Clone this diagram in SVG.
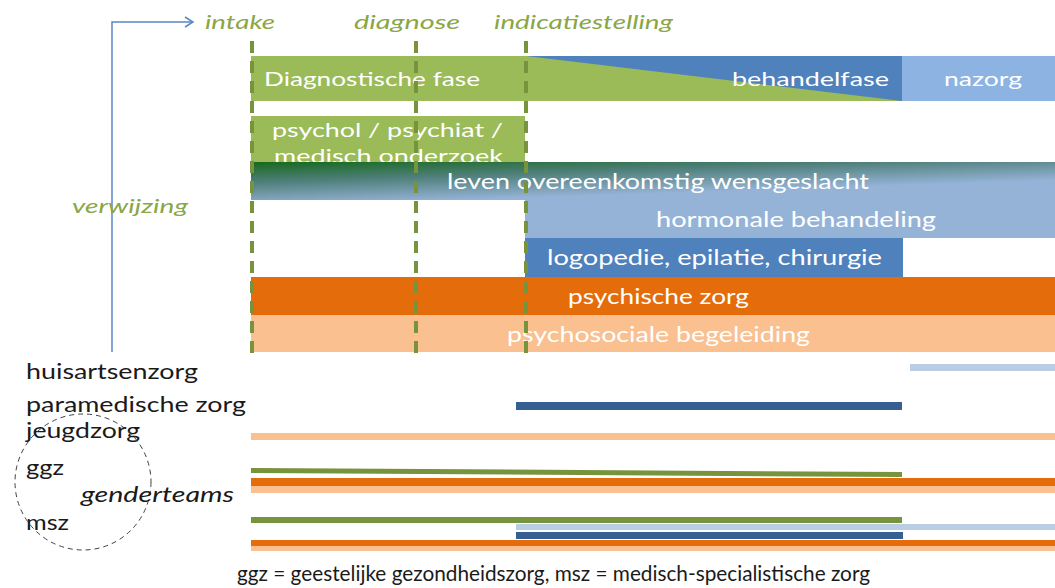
<svg xmlns="http://www.w3.org/2000/svg" width="1055" height="588" viewBox="0 0 1055 588">
<defs>
<style>
.bt{font-family:Lato,"Liberation Sans",sans-serif;fill:#FFFFFF;}
.tl{font-family:Lato,"Liberation Sans",sans-serif;font-style:italic;fill:#8AA645;font-size:20px;}
.lb{font-family:Lato,"Liberation Sans",sans-serif;fill:#1A1A1A;font-size:21px;}
.dash{stroke:#77933C;stroke-width:4;stroke-dasharray:12 8;fill:none;}
.conn{stroke:#5B86C5;stroke-width:1.5;fill:none;}
</style>
<linearGradient id="gLeven" gradientUnits="userSpaceOnUse" x1="251" y1="162" x2="252.5" y2="207">
<stop offset="0" stop-color="#17691D"/>
<stop offset="0.45" stop-color="#4E7F79"/>
<stop offset="1" stop-color="#95B3D7"/>
</linearGradient>
</defs>
<rect width="1055" height="588" fill="#FFFFFF"/>

<g id="connectors">
<polyline class="conn" points="112,352 112,22 193,22"/>
<polyline class="conn" points="185,17 193,22 185,27"/>
</g>

<g id="timeline-labels">
<text class="tl" x="205" y="29" textLength="70" lengthAdjust="spacingAndGlyphs">intake</text>
<text class="tl" x="354" y="29" textLength="106" lengthAdjust="spacingAndGlyphs">diagnose</text>
<text class="tl" x="494" y="29" textLength="179" lengthAdjust="spacingAndGlyphs">indicatiestelling</text>
<text class="tl" x="72" y="213" textLength="116" lengthAdjust="spacingAndGlyphs">verwijzing</text>
</g>

<g id="phase-row">
<rect x="251" y="56" width="651" height="45" fill="#9BBB59"/>
<polygon points="526,56 902,56 902,101" fill="#4F81BD"/>
<rect x="902" y="56" width="153" height="45" fill="#8DB3E2"/>
<text class="bt" x="264" y="86" font-size="20" textLength="216" lengthAdjust="spacingAndGlyphs">Diagnostische fase</text>
<text class="bt" x="732" y="86" font-size="20" textLength="157" lengthAdjust="spacingAndGlyphs">behandelfase</text>
<text class="bt" x="944" y="86" font-size="20" textLength="78" lengthAdjust="spacingAndGlyphs">nazorg</text>
</g>

<g id="onderzoek">
<rect x="251" y="116" width="274" height="47" fill="#9BBB59"/>
<text class="bt" x="272" y="137" font-size="20" textLength="231" lengthAdjust="spacingAndGlyphs">psychol / psychiat  /</text>
<text class="bt" x="274" y="163" font-size="20" textLength="229" lengthAdjust="spacingAndGlyphs">medisch onderzoek</text>
</g>

<g id="leven">
<rect x="251" y="162" width="804" height="38" fill="url(#gLeven)"/>
<text class="bt" x="447" y="189" font-size="22" textLength="422" lengthAdjust="spacingAndGlyphs">leven overeenkomstig wensgeslacht</text>
</g>

<g id="hormonale">
<rect x="525" y="200" width="530" height="38" fill="#95B3D7"/>
<text class="bt" x="656" y="227" font-size="22" textLength="280" lengthAdjust="spacingAndGlyphs">hormonale behandeling</text>
</g>

<g id="logopedie">
<rect x="525" y="238" width="378" height="39" fill="#4F81BD"/>
<text class="bt" x="547" y="265" font-size="22" textLength="335" lengthAdjust="spacingAndGlyphs">logopedie, epilatie, chirurgie</text>
</g>

<g id="psychische">
<rect x="251" y="277" width="804" height="38" fill="#E46C0A"/>
<text class="bt" x="568" y="304" font-size="22" textLength="181" lengthAdjust="spacingAndGlyphs">psychische zorg</text>
</g>

<g id="psychosociale">
<rect x="251" y="315" width="804" height="37" fill="#FAC090"/>
<text class="bt" x="507" y="342" font-size="22" textLength="303" lengthAdjust="spacingAndGlyphs">psychosociale begeleiding</text>
</g>

<g id="milestones">
<line class="dash" x1="252" y1="41" x2="252" y2="359"/>
<line class="dash" x1="416" y1="41" x2="416" y2="359"/>
<line class="dash" x1="526" y1="41" x2="526" y2="359"/>
</g>

<g id="huisartsenzorg">
<text class="lb" x="26" y="379" textLength="172" lengthAdjust="spacingAndGlyphs">huisartsenzorg</text>
<rect x="910" y="364" width="145" height="7" fill="#B9CDE5"/>
</g>

<g id="paramedische">
<text class="lb" x="26" y="412" textLength="220" lengthAdjust="spacingAndGlyphs">paramedische zorg</text>
<rect x="516" y="402" width="386" height="8" fill="#376092"/>
</g>

<g id="jeugdzorg">
<text class="lb" x="26" y="438" textLength="114" lengthAdjust="spacingAndGlyphs">jeugdzorg</text>
<rect x="251" y="433" width="804" height="7" fill="#FAC090"/>
</g>

<g id="ggz">
<text class="lb" x="26" y="475" textLength="38" lengthAdjust="spacingAndGlyphs">ggz</text>
<polygon points="251,468 902,472 902,477 251,473" fill="#77933C"/>
<rect x="251" y="478" width="804" height="8" fill="#E46C0A"/>
<rect x="251" y="486" width="804" height="7" fill="#FAC090"/>
</g>

<g id="msz">
<text class="lb" x="26" y="530" textLength="43" lengthAdjust="spacingAndGlyphs">msz</text>
<rect x="251" y="517" width="651" height="6" fill="#77933C"/>
<rect x="516" y="524" width="539" height="6" fill="#B9CDE5"/>
<rect x="516" y="532" width="387" height="7" fill="#376092"/>
<rect x="251" y="540" width="804" height="6" fill="#E46C0A"/>
<rect x="251" y="546" width="804" height="5" fill="#FAC090"/>
</g>

<g id="genderteams">
<circle cx="83" cy="482" r="68" fill="none" stroke="#404040" stroke-width="1" stroke-dasharray="5 4"/>
<text class="lb" x="81" y="502" font-style="italic" textLength="153" lengthAdjust="spacingAndGlyphs">genderteams</text>
</g>

<g id="footnote">
<text class="lb" x="237" y="581" font-size="17" textLength="633" lengthAdjust="spacingAndGlyphs">ggz = geestelijke gezondheidszorg, msz = medisch-specialistische zorg</text>
</g>
</svg>
